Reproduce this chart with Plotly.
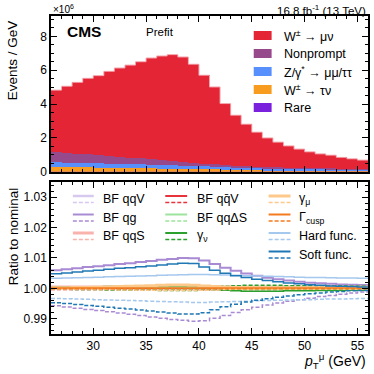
import plotly.graph_objects as go

FONT = "Liberation Sans, Arial, sans-serif"

# muon pT binning (GeV)
pt_edges = list(range(26, 57))

# prefit stack, in units of 1e6 events / GeV
rare = [0.01, 0.01, 0.01, 0.01, 0.01, 0.01, 0.01, 0.01, 0.01, 0.01, 0.01, 0.01, 0.01, 0.01, 0.01,
        0.01, 0.01, 0.01, 0.01, 0.01, 0.01, 0.01, 0.01, 0.01, 0.01, 0.01, 0.01, 0.01, 0.01, 0.01]
w_taunu = [0.28, 0.27, 0.26, 0.25, 0.24, 0.23, 0.22, 0.21, 0.20, 0.19, 0.18, 0.17, 0.16, 0.15, 0.14,
           0.13, 0.12, 0.11, 0.10, 0.10, 0.09, 0.09, 0.08, 0.08, 0.07, 0.07, 0.07, 0.06, 0.06, 0.06]
z_mumu = [0.27, 0.27, 0.26, 0.26, 0.25, 0.25, 0.24, 0.24, 0.23, 0.22, 0.21, 0.20, 0.19, 0.18, 0.17,
          0.16, 0.15, 0.14, 0.13, 0.12, 0.11, 0.11, 0.10, 0.10, 0.09, 0.09, 0.08, 0.08, 0.08, 0.07]
nonprompt = [0.63, 0.59, 0.55, 0.51, 0.47, 0.44, 0.41, 0.38, 0.35, 0.32, 0.29, 0.26, 0.23, 0.20, 0.17,
             0.14, 0.12, 0.10, 0.09, 0.08, 0.07, 0.06, 0.06, 0.05, 0.05, 0.04, 0.04, 0.04, 0.03, 0.03]
w_munu = [3.63, 3.91, 4.20, 4.49, 4.71, 5.00, 5.25, 5.46, 5.71, 5.98, 6.15, 6.28, 6.19, 5.81, 5.21,
          4.57, 3.63, 2.98, 2.48, 2.03, 1.72, 1.48, 1.28, 1.10, 0.96, 0.85, 0.78, 0.66, 0.59, 0.52]

# ratio to nominal, up (solid) / down (dashed) variations
qqV_up = [1.0002, 1.0002, 1.0002, 1.0002, 1.0002, 1.0002, 1.0002, 1.0002, 1.0002, 1.0002, 1.0002, 1.0002, 1.0002, 1.0002, 1.0002,
          1.0002, 1.0002, 1.0002, 1.0002, 1.0002, 1.0002, 1.0002, 1.0002, 1.0003, 1.0003, 1.0003, 1.0003, 1.0003, 1.0003, 1.0003]
qqV_dn = [0.9998, 0.9998, 0.9998, 0.9998, 0.9998, 0.9998, 0.9998, 0.9998, 0.9998, 0.9998, 0.9998, 0.9998, 0.9998, 0.9998, 0.9998,
          0.9998, 0.9998, 0.9998, 0.9998, 0.9998, 0.9998, 0.9998, 0.9998, 0.9997, 0.9997, 0.9997, 0.9997, 0.9997, 0.9997, 0.9997]
qg_up = [1.0060, 1.0063, 1.0066, 1.0070, 1.0073, 1.0076, 1.0080, 1.0083, 1.0087, 1.0090, 1.0094, 1.0097, 1.0100, 1.0099, 1.0092,
         1.0080, 1.0068, 1.0058, 1.0049, 1.0042, 1.0035, 1.0030, 1.0026, 1.0022, 1.0019, 1.0017, 1.0015, 1.0013, 1.0012, 1.0011]
qg_dn = [0.9943, 0.9939, 0.9935, 0.9931, 0.9927, 0.9923, 0.9919, 0.9915, 0.9911, 0.9906, 0.9902, 0.9898, 0.9895, 0.9892, 0.9894,
         0.9902, 0.9911, 0.9921, 0.9930, 0.9938, 0.9945, 0.9952, 0.9958, 0.9963, 0.9968, 0.9973, 0.9977, 0.9981, 0.9985, 0.9988]
qqS_up = [1.0005, 1.0005, 1.0005, 1.0005, 1.0005, 1.0005, 1.0005, 1.0005, 1.0005, 1.0005, 1.0005, 1.0005, 1.0005, 1.0005, 1.0005,
          1.0005, 1.0005, 1.0005, 1.0005, 1.0005, 1.0005, 1.0005, 1.0005, 1.0005, 1.0005, 1.0005, 1.0005, 1.0005, 1.0005, 1.0005]
qqS_dn = [0.9995, 0.9995, 0.9995, 0.9995, 0.9995, 0.9995, 0.9995, 0.9995, 0.9995, 0.9995, 0.9995, 0.9995, 0.9995, 0.9995, 0.9995,
          0.9995, 0.9995, 0.9995, 0.9995, 0.9995, 0.9995, 0.9995, 0.9995, 0.9995, 0.9995, 0.9995, 0.9995, 0.9995, 0.9995, 0.9995]
qqbarV_up = [1.0000, 1.0000, 1.0000, 1.0000, 1.0000, 1.0000, 1.0000, 1.0000, 1.0000, 1.0000, 1.0000, 1.0000, 1.0000, 1.0000, 1.0000,
             1.0000, 1.0000, 1.0000, 1.0000, 1.0000, 1.0000, 1.0000, 1.0000, 1.0000, 1.0000, 1.0000, 1.0000, 1.0000, 1.0000, 1.0000]
qqbarV_dn = [0.9998, 0.9998, 0.9998, 0.9998, 0.9998, 0.9998, 0.9998, 0.9998, 0.9998, 0.9998, 0.9998, 0.9998, 0.9998, 0.9998, 0.9998,
             0.9998, 0.9998, 0.9998, 0.9998, 0.9998, 0.9998, 0.9998, 0.9998, 0.9998, 0.9998, 0.9998, 0.9998, 0.9998, 0.9998, 0.9998]
qqdS_up = [1.0003, 1.0003, 1.0003, 1.0003, 1.0003, 1.0004, 1.0004, 1.0004, 1.0004, 1.0004, 1.0004, 1.0004, 1.0004, 1.0003, 1.0003,
           1.0002, 0.9997, 0.9996, 0.9996, 0.9996, 0.9996, 0.9996, 0.9996, 0.9996, 0.9997, 0.9997, 0.9997, 0.9997, 0.9997, 0.9997]
qqdS_dn = [0.9998, 0.9998, 0.9998, 0.9998, 0.9997, 0.9997, 0.9997, 0.9997, 0.9997, 0.9997, 0.9997, 0.9997, 0.9997, 0.9997, 0.9998,
           0.9998, 1.0003, 1.0004, 1.0004, 1.0004, 1.0004, 1.0004, 1.0004, 1.0004, 1.0003, 1.0003, 1.0003, 1.0003, 1.0003, 1.0003]
gnu_up = [1.0004, 1.0004, 1.0005, 1.0005, 1.0005, 1.0006, 1.0006, 1.0007, 1.0007, 1.0008, 1.0008, 1.0008, 1.0008, 1.0008, 1.0007,
          1.0006, 0.9994, 0.9992, 0.9991, 0.9991, 0.9991, 0.9991, 0.9992, 0.9992, 0.9992, 0.9993, 0.9993, 0.9993, 0.9994, 0.9994]
gnu_dn = [0.9997, 0.9997, 0.9996, 0.9996, 0.9996, 0.9995, 0.9995, 0.9994, 0.9994, 0.9994, 0.9993, 0.9993, 0.9993, 0.9993, 0.9994,
          0.9995, 1.0007, 1.0009, 1.0010, 1.0010, 1.0010, 1.0010, 1.0009, 1.0009, 1.0009, 1.0008, 1.0008, 1.0008, 1.0007, 1.0007]
gmu_up = [1.0002, 1.0002, 1.0003, 1.0003, 1.0004, 1.0005, 1.0006, 1.0007, 1.0008, 1.0009, 1.0010, 1.0011, 1.0011, 1.0010, 1.0008,
          1.0006, 1.0004, 1.0003, 1.0003, 1.0002, 1.0002, 1.0002, 1.0002, 1.0002, 1.0002, 1.0002, 1.0002, 1.0002, 1.0002, 1.0002]
gmu_dn = [0.9998, 0.9998, 0.9997, 0.9997, 0.9996, 0.9996, 0.9995, 0.9995, 0.9994, 0.9994, 0.9993, 0.9993, 0.9993, 0.9993, 0.9994,
          0.9995, 0.9996, 0.9997, 0.9997, 0.9998, 0.9998, 0.9998, 0.9998, 0.9998, 0.9998, 0.9998, 0.9998, 0.9998, 0.9998, 0.9998]
cusp_up = [1.0001, 1.0001, 1.0001, 1.0001, 1.0001, 1.0001, 1.0001, 1.0001, 1.0001, 1.0001, 1.0001, 1.0001, 1.0001, 1.0001, 1.0001,
           1.0001, 1.0001, 1.0001, 1.0001, 1.0001, 1.0001, 1.0001, 1.0001, 1.0001, 1.0001, 1.0001, 1.0001, 1.0001, 1.0001, 1.0001]
cusp_dn = [0.9999, 0.9999, 0.9999, 0.9999, 0.9999, 0.9999, 0.9999, 0.9999, 0.9999, 0.9999, 0.9999, 0.9999, 0.9999, 0.9999, 0.9999,
           0.9999, 0.9999, 0.9999, 0.9999, 0.9999, 0.9999, 0.9999, 0.9999, 0.9999, 0.9999, 0.9999, 0.9999, 0.9999, 0.9999, 0.9999]
hard_up = [1.0033, 1.0034, 1.0035, 1.0036, 1.0037, 1.0038, 1.0039, 1.0040, 1.0041, 1.0042, 1.0043, 1.0044, 1.0045, 1.0046, 1.0046,
           1.0045, 1.0044, 1.0043, 1.0042, 1.0041, 1.0040, 1.0039, 1.0038, 1.0037, 1.0036, 1.0036, 1.0035, 1.0034, 1.0034, 1.0033]
hard_dn = [0.9967, 0.9966, 0.9965, 0.9964, 0.9963, 0.9962, 0.9961, 0.9960, 0.9959, 0.9958, 0.9957, 0.9956, 0.9955, 0.9954, 0.9954,
           0.9955, 0.9956, 0.9957, 0.9958, 0.9959, 0.9960, 0.9961, 0.9962, 0.9963, 0.9963, 0.9964, 0.9965, 0.9965, 0.9966, 0.9967]
soft_up = [1.0048, 1.0051, 1.0054, 1.0057, 1.0060, 1.0063, 1.0066, 1.0068, 1.0071, 1.0074, 1.0077, 1.0080, 1.0083, 1.0082, 1.0070,
           1.0060, 1.0050, 1.0042, 1.0036, 1.0030, 1.0026, 1.0022, 1.0018, 1.0015, 1.0012, 1.0010, 1.0008, 1.0007, 1.0006, 1.0005]
soft_dn = [0.9953, 0.9950, 0.9947, 0.9944, 0.9941, 0.9938, 0.9935, 0.9932, 0.9929, 0.9926, 0.9922, 0.9919, 0.9916, 0.9916, 0.9920,
           0.9930, 0.9940, 0.9948, 0.9955, 0.9961, 0.9966, 0.9971, 0.9975, 0.9979, 0.9982, 0.9985, 0.9988, 0.9990, 0.9992, 0.9993]

stack = [
    ("Rare", rare, "#7a21dd"),
    ("W<sup>±</sup> → τν", w_taunu, "#f89c20"),
    ("Z/γ<sup>*</sup> → μμ/ττ", z_mumu, "#5790fc"),
    ("Nonprompt", nonprompt, "#964a8b"),
    ("W<sup>±</sup> → μν", w_munu, "#e42536"),
]

# name, up, down, colour, solid width, column, row
systs = [
    ("BF qqV", qqV_up, qqV_dn, "#d6c8ee", 2.5, 0, 0),
    ("BF qg", qg_up, qg_dn, "#a98bd4", 2.0, 0, 1),
    ("BF qqS", qqS_up, qqS_dn, "#f9b3ad", 3.0, 0, 2),
    ("BF qq\u0304V", qqbarV_up, qqbarV_dn, "#e8323c", 1.5, 1, 0),
    ("BF qqΔS", qqdS_up, qqdS_dn, "#9de39d", 1.5, 1, 1),
    ("γ<sub>ν</sub>", gnu_up, gnu_dn, "#2ca02c", 1.5, 1, 2),
    ("γ<sub>μ</sub>", gmu_up, gmu_dn, "#fdc98b", 3.0, 2, 0),
    ("Γ<sub>cusp</sub>", cusp_up, cusp_dn, "#f37a1e", 1.5, 2, 1),
    ("Hard func.", hard_up, hard_dn, "#a5c8ee", 1.5, 2, 2),
    ("Soft func.", soft_up, soft_dn, "#1f77b4", 1.5, 2, 3),
]


def step(vals):
    return pt_edges, list(vals) + [vals[-1]]


# pixel -> paper helpers (plot area 51..370 x 16..334)
def px(x):
    return (x - 51) / 319


def py(y):
    return (334 - y) / 318


fig = go.Figure()

centers = [lo + 0.5 for lo in pt_edges[:-1]]
for name, vals, col in stack:
    fig.add_trace(go.Bar(x=centers, y=vals, width=1, marker_color=col,
                         marker_line_width=0, name=name, xaxis="x", yaxis="y"))

total = [sum(v) for v in zip(*[s[1] for s in stack])]
sx, sy = step(total)
fig.add_trace(go.Scatter(x=sx, y=sy, mode="lines", line=dict(color="#f3a0a8", width=1, shape="hv"),
                         xaxis="x", yaxis="y"))

for name, up, dn, col, w, c, r in systs:
    ux, uy = step(up)
    dx, dy = step(dn)
    fig.add_trace(go.Scatter(x=ux, y=uy, mode="lines", line=dict(color=col, width=w, shape="hv"),
                             xaxis="x2", yaxis="y2"))
    fig.add_trace(go.Scatter(x=dx, y=dy, mode="lines",
                             line=dict(color=col, width=1.5, shape="hv", dash="4px,2px"),
                             xaxis="x2", yaxis="y2"))

shapes = []
annotations = []

# top legend
for i, (name, vals, col) in enumerate(reversed(stack)):
    yc = 35.5 + 18 * i
    shapes.append(dict(type="rect", xref="paper", yref="paper", x0=px(255), x1=px(273),
                       y0=py(yc + 4.5), y1=py(yc - 4.5), fillcolor=col, line_width=0))
    annotations.append(dict(x=px(283), y=py(yc), xref="paper", yref="paper", text=name,
                            showarrow=False, xanchor="left", yanchor="middle",
                            font=dict(size=12.5, color="black")))

# ratio legend
col_sym = [(73, 94), (166, 188), (270, 292)]
col_txt = [101, 196, 299]
rows = [199, 217.5, 236, 254.5]
for name, up, dn, col, w, c, r in systs:
    x0, x1 = col_sym[c]
    yc = rows[r]
    shapes.append(dict(type="line", xref="paper", yref="paper", x0=px(x0), x1=px(x1),
                       y0=py(yc - 3), y1=py(yc - 3), line=dict(color=col, width=max(w, 2))))
    shapes.append(dict(type="line", xref="paper", yref="paper", x0=px(x0), x1=px(x1),
                       y0=py(yc + 3.5), y1=py(yc + 3.5), line=dict(color=col, width=1.5, dash="4px,2px")))
    annotations.append(dict(x=px(col_txt[c]), y=py(yc), xref="paper", yref="paper", text=name,
                            showarrow=False, xanchor="left", yanchor="middle",
                            font=dict(size=12.5, color="black")))

annotations += [
    dict(x=px(65), y=py(32), xref="paper", yref="paper", text="<b>CMS</b>", showarrow=False,
         xanchor="left", yanchor="middle", font=dict(size=15.5, color="black")),
    dict(x=px(145), y=py(32), xref="paper", yref="paper", text="Prefit", showarrow=False,
         xanchor="left", yanchor="middle", font=dict(size=11.5, color="black")),
    dict(x=px(370), y=py(10), xref="paper", yref="paper", text="16.8 fb<sup>-1</sup> (13 TeV)",
         showarrow=False, xanchor="right", yanchor="middle", font=dict(size=11.5, color="black")),
    dict(x=px(51), y=py(9), xref="paper", yref="paper", text="×10<sup>6</sup>", showarrow=False,
         xanchor="left", yanchor="middle", font=dict(size=10, color="black")),
    dict(x=px(13), y=py(60), xref="paper", yref="paper", text="Events / GeV", showarrow=False,
         textangle=-90, xanchor="center", yanchor="middle", font=dict(size=13.5, color="black")),
    dict(x=px(13), y=py(236), xref="paper", yref="paper", text="Ratio to nominal", showarrow=False,
         textangle=-90, xanchor="center", yanchor="middle", font=dict(size=13.5, color="black")),
    dict(x=px(370), y=py(361), xref="paper", yref="paper",
         text="<i>p</i><sub>T</sub><sup>μ</sup> (GeV)", showarrow=False,
         xanchor="right", yanchor="middle", font=dict(size=14, color="black")),
]

axis_common = dict(showline=True, linecolor="black", linewidth=1.5, mirror="allticks",
                   ticks="inside", ticklen=6, tickwidth=1, tickcolor="black",
                   showgrid=False, zeroline=False, tickfont=dict(size=12, color="black"))

fig.update_layout(
    width=374, height=374,
    margin=dict(l=51, r=4, t=16, b=40),
    paper_bgcolor="white", plot_bgcolor="white",
    font=dict(family=FONT, color="black"),
    showlegend=False,
    barmode="stack", bargap=0,
    xaxis=dict(domain=[0, 1], range=[26, 56], anchor="y", showticklabels=False,
               tick0=0, dtick=5, minor=dict(ticks="inside", ticklen=3, dtick=1, tickcolor="black"),
               **axis_common),
    yaxis=dict(domain=[0.51, 1], range=[0, 9.2], anchor="x", tick0=0, dtick=2,
               minor=dict(ticks="inside", ticklen=3, dtick=0.5, tickcolor="black"),
               **axis_common),
    xaxis2=dict(domain=[0, 1], range=[26, 56], anchor="y2", matches="x",
                tick0=0, dtick=5, minor=dict(ticks="inside", ticklen=3, dtick=1, tickcolor="black"),
                **axis_common),
    yaxis2=dict(domain=[0, 0.478], range=[0.985, 1.035], anchor="x2", tick0=1, dtick=0.01,
                tickformat=".2f", minor=dict(ticks="inside", ticklen=3, dtick=0.002, tickcolor="black"),
                **axis_common),
    shapes=shapes,
    annotations=annotations,
)

# drop the default page margin so the 374px figure fills the window
fig.write_html("out.html", config={"displayModeBar": False},
               post_script="document.body.style.margin = '0';")
